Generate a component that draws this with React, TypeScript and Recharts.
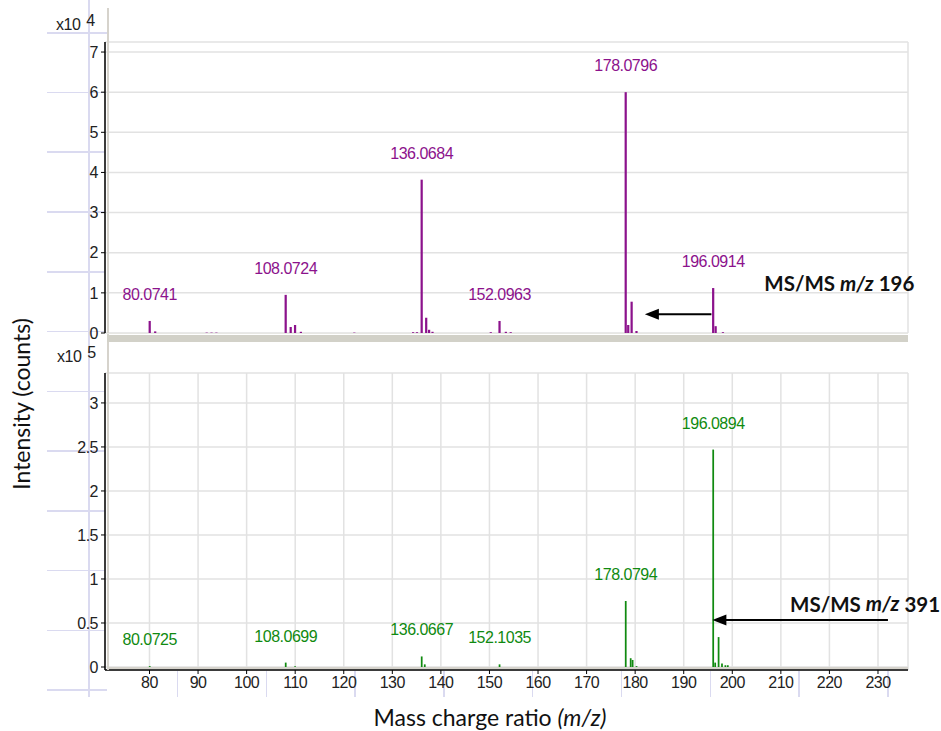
import React from 'react';
import {
  ComposedChart,
  Bar,
  XAxis,
  YAxis,
  CartesianGrid,
  LabelList,
  ReferenceLine,
  ReferenceDot,
} from 'recharts';

// MS/MS m/z 196 (intensity x10^4)
const topMz = [80.07, 81.2, 91.8, 92.8, 93.8, 108.07, 109.1, 110.0, 111.2, 122.2, 134.3, 135.1, 136.07, 137.0, 137.6, 138.3, 150.3, 152.1, 153.4, 154.4, 178.08, 178.6, 179.3, 180.3, 196.09, 196.6, 198.1];
const topIntensity = [0.3, 0.04, 0.01, 0.01, 0.01, 0.95, 0.15, 0.2, 0.03, 0.01, 0.02, 0.02, 3.82, 0.38, 0.08, 0.03, 0.02, 0.3, 0.03, 0.02, 6.0, 0.2, 0.78, 0.05, 1.12, 0.17, 0.02];
const topLabels: Record<number, string> = { 0: '80.0741', 5: '108.0724', 12: '136.0684', 17: '152.0963', 20: '178.0796', 24: '196.0914' };

// MS/MS m/z 391 (intensity x10^5)
const bottomMz = [80.07, 108.07, 110.0, 136.07, 136.7, 152.1, 178.08, 179.1, 179.5, 180.3, 196.09, 196.5, 197.2, 197.9, 198.6, 199.1];
const bottomIntensity = [0.01, 0.05, 0.01, 0.12, 0.03, 0.03, 0.75, 0.1, 0.08, 0.01, 2.47, 0.05, 0.34, 0.04, 0.02, 0.02];
const bottomLabels: Record<number, string> = { 0: '80.0725', 1: '108.0699', 3: '136.0667', 5: '152.1035', 6: '178.0794', 10: '196.0894' };

const xTicks = [80, 90, 100, 110, 120, 130, 140, 150, 160, 170, 180, 190, 200, 210, 220, 230];
const topYTicks = [0, 1, 2, 3, 4, 5, 6, 7];
const bottomYTicks = [0, 0.5, 1, 1.5, 2, 2.5, 3];

const topData = topMz.map((mz, i) => ({ mz, intensity: topIntensity[i], label: topLabels[i] }));
const bottomData = bottomMz.map((mz, i) => ({ mz, intensity: bottomIntensity[i], label: bottomLabels[i] }));

const PURPLE = '#8c128c';
const GREEN = '#108a10';
const SANS = '"Liberation Sans", Arial, sans-serif';
const TITLE = 'Lato, "Open Sans", sans-serif';
const X_DOMAIN: [number, number] = [70.84, 236.18];
const smallText = { fontSize: 16, fontFamily: SANS, letterSpacing: -0.5 };

const arrowHead = (p: any) => (
  <polygon points={`${p.cx},${p.cy} ${p.cx + 14},${p.cy - 5.5} ${p.cx + 14},${p.cy + 5.5}`} fill="#000" />
);

const note = (precursor: string) => (p: any) => (
  <text x={p.cx} y={p.cy} dominantBaseline="middle" fontFamily={TITLE} fontWeight={700} fontSize={20.5} fill="#111">
    MS/MS <tspan fontStyle="italic">m/z</tspan> {precursor}
  </text>
);

const yAxisProps = {
  type: 'number' as const,
  width: 105,
  tickSize: 4,
  tickMargin: 3,
  interval: 0 as const,
  allowDataOverflow: true,
  axisLine: { stroke: '#000', strokeWidth: 1.5 },
  tickLine: { stroke: '#000' },
  tick: { fill: '#222', ...smallText },
};

export default function App() {
  return (
    <div style={{ position: 'absolute', left: 0, top: 0, width: 941, height: 731, background: '#fff', overflow: 'hidden' }}>
      {/* faint table grid behind the screenshot */}
      <div
        style={{
          position: 'absolute', left: 47, top: 0, width: 60, height: 697,
          background:
            'linear-gradient(to right, transparent 41px, #dadaf0 41px, #dadaf0 43px, transparent 43px), ' +
            'repeating-linear-gradient(to bottom, transparent 0px, transparent 32px, #dadaf0 32px, #dadaf0 33.5px, transparent 33.5px, transparent 59.75px)',
        }}
      />
      <div
        style={{
          position: 'absolute', left: 47, top: 671, width: 861, height: 26,
          background: 'repeating-linear-gradient(to right, transparent 0px, transparent 41px, #dadaf0 41px, #dadaf0 42.5px, transparent 42.5px, transparent 88.8px)',
        }}
      />

      <div style={{ position: 'absolute', left: 0, top: 0 }}>
        <ComposedChart width={941} height={345} data={topData} margin={{ top: 42, right: 33, bottom: 12, left: 0 }}>
          <CartesianGrid stroke="#e2e2e2" strokeWidth={1.5} fill="#fff" />
          <XAxis type="number" dataKey="mz" domain={X_DOMAIN} ticks={xTicks} allowDataOverflow height={0} tick={false} axisLine={false} tickLine={false} />
          <YAxis {...yAxisProps} domain={[0, 7.25]} ticks={topYTicks} />
          <Bar dataKey="intensity" fill={PURPLE} barSize={3} isAnimationActive={false}>
            <LabelList dataKey="label" position="top" offset={21} fill={PURPLE} {...smallText} />
          </Bar>
          <ReferenceLine segment={[{ x: 195.7, y: 0.47 }, { x: 184, y: 0.47 }]} stroke="#000" strokeWidth={2} ifOverflow="visible" />
          <ReferenceDot x={182} y={0.47} shape={arrowHead} ifOverflow="visible" />
          <ReferenceDot x={206.6} y={1.18} shape={note('196')} ifOverflow="visible" />
        </ComposedChart>
      </div>

      <div style={{ position: 'absolute', left: 0, top: 345 }}>
        <ComposedChart width={941} height={386} data={bottomData} margin={{ top: 28, right: 33, bottom: 31, left: 0 }}>
          <CartesianGrid stroke="#e2e2e2" strokeWidth={1.5} fill="#fff" />
          <XAxis
            type="number"
            dataKey="mz"
            domain={X_DOMAIN}
            ticks={xTicks}
            interval={0}
            allowDataOverflow
            height={30}
            tickSize={4}
            tickMargin={3}
            axisLine={{ stroke: '#000', strokeWidth: 1.5 }}
            tickLine={{ stroke: '#000' }}
            tick={{ fill: '#222', ...smallText }}
          />
          <YAxis {...yAxisProps} domain={[-0.034, 3.34]} ticks={bottomYTicks} />
          <Bar dataKey="intensity" fill={GREEN} barSize={3} isAnimationActive={false}>
            <LabelList dataKey="label" position="top" offset={21} fill={GREEN} {...smallText} />
          </Bar>
          <ReferenceLine segment={[{ x: 232.05, y: 0.534 }, { x: 198.2, y: 0.534 }]} stroke="#000" strokeWidth={2} ifOverflow="visible" />
          <ReferenceDot x={195.9} y={0.534} shape={arrowHead} ifOverflow="visible" />
          <ReferenceDot x={211.9} y={0.69} shape={note('391')} ifOverflow="visible" />
        </ComposedChart>
      </div>

      {/* panel frames */}
      <div style={{ position: 'absolute', left: 107, top: 8, width: 2, height: 662, background: '#d6d3cc' }} />
      <div style={{ position: 'absolute', left: 107, top: 333, width: 801, height: 1, background: '#e8e8e4' }} />
      <div style={{ position: 'absolute', left: 107, top: 335, width: 801, height: 7, background: '#d2d1c8' }} />
      <div style={{ position: 'absolute', left: 107, top: 667, width: 801, height: 2, background: '#d6d3cc' }} />

      {/* exponent labels */}
      <div style={{ position: 'absolute', left: 56, top: 16, ...smallText, color: '#222' }}>
        x10<span style={{ position: 'relative', top: -4, marginLeft: 6 }}>4</span>
      </div>
      <div style={{ position: 'absolute', left: 57, top: 348, ...smallText, color: '#222' }}>
        x10<span style={{ position: 'relative', top: -4, marginLeft: 6 }}>5</span>
      </div>

      {/* axis titles */}
      <div
        style={{
          position: 'absolute', left: 21, top: 404, transform: 'translate(-50%, -50%) rotate(-90deg)',
          whiteSpace: 'nowrap', fontFamily: TITLE, fontSize: 23, color: '#111',
        }}
      >
        Intensity (counts)
      </div>
      <div
        style={{
          position: 'absolute', left: 490, top: 717, transform: 'translate(-50%, -50%)',
          whiteSpace: 'nowrap', fontFamily: TITLE, fontSize: 23, color: '#111',
        }}
      >
        Mass charge ratio <i>(m/z)</i>
      </div>
    </div>
  );
}
